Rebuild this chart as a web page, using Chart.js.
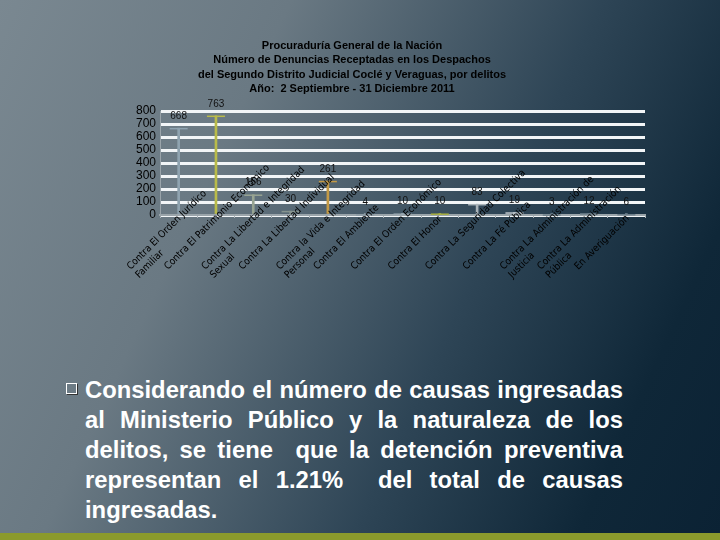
<!DOCTYPE html>
<html><head><meta charset="utf-8">
<script src="https://cdn.jsdelivr.net/npm/chart.js@4"></script>
<style>
html,body{margin:0;padding:0;width:720px;height:540px;overflow:hidden}
body{background:linear-gradient(115deg,#7a8891 0%,#6a7983 30%,#2e4556 62%,#0f2738 85%,#0b2234 100%);position:relative;font-family:"Liberation Sans",Arial,sans-serif}
#wrap{position:absolute;left:0;top:0;width:720px;height:330px}
#title{position:absolute;left:152px;top:38px;width:400px;text-align:center;color:#000;font-weight:bold;font-size:11px;line-height:14.4px;white-space:nowrap}
#txt{position:absolute;left:85px;top:375px;width:538px;color:#fff;font-weight:bold;font-size:23.8px;line-height:30px}
#txt div{text-align:justify;text-align-last:justify;white-space:nowrap}
#txt div.last{text-align-last:left}
#bul{position:absolute;left:66px;top:383px;width:11px;height:11px;border:1.5px solid #fff;box-sizing:border-box;box-shadow:1px 1px 0 #333}
#bar{position:absolute;left:0;top:533px;width:720px;height:7px;background:#8b9a2c}
</style></head><body>
<div id="wrap"><canvas id="c"></canvas></div>
<div id="title"></div>
<div id="bul"></div>
<div id="txt"></div>
<div id="bar"></div>
<script>
const titleLines = ["Procuraduría General de la Nación","Número de Denuncias Receptadas en los Despachos","del Segundo Distrito Judicial Coclé y Veraguas, por delitos","Año:  2 Septiembre - 31 Diciembre 2011"];
const categories = [
  ["Contra El Orden Jurídico","Familiar"],
  "Contra El Patrimonio Económico",
  ["Contra La Libertad e Integridad","Sexual"],
  "Contra La Libertad Individual",
  ["Contra la Vida e Integridad","Personal"],
  "Contra El Ambiente",
  "Contra El Orden Económico",
  "Contra El Honor",
  "Contra La Seguridad Colectiva",
  "Contra La Fé Pública",
  ["Contra La Administración de","Justicia"],
  ["Contra La Administración","Pública"],
  "En Averiguación"
];
const denuncias = [668, 763, 156, 30, 261, 4, 10, 10, 83, 19, 3, 12, 6];
const barColors = ["#8fa3b0","#b9bb4a","#98a492","#87948f","#c49a46","#8a9aa4","#9aa8b0","#a8b040","#a9b3b9","#c0c8cd","#6d7f8b","#6d7f8b","#6d7f8b"];
const yTicks = [0,100,200,300,400,500,600,700,800];
const bodyLines = ["Considerando el número de causas ingresadas","al Ministerio Público y la naturaleza de los","delitos, se tiene\u00a0 que la detención preventiva","representan el 1.21%\u00a0 del total de causas","ingresadas."];

document.getElementById('title').innerHTML = titleLines.map(t=>'<div>'+t.replace(/  /g,'&nbsp; ')+'</div>').join('');
document.getElementById('txt').innerHTML = bodyLines.map((t,i)=>'<div'+(i===bodyLines.length-1?' class="last"':'')+'>'+t+'</div>').join('');

const LABEL_FONT = '10px "Liberation Sans Narrow", "DejaVu Sans Condensed", "Liberation Sans", Arial';

const marks = {
  id:'marks',
  afterDatasetsDraw(chart){
    const ctx = chart.ctx, meta = chart.getDatasetMeta(0), ds = chart.data.datasets[0];
    ctx.save();
    meta.data.forEach((el,i)=>{
      ctx.strokeStyle = ds.backgroundColor[i];
      ctx.lineWidth = 1.5;
      ctx.beginPath();
      ctx.moveTo(el.x-9, el.y+0.5); ctx.lineTo(el.x+9, el.y+0.5);
      ctx.stroke();
    });
    ctx.font = '10px "Liberation Sans", Arial';
    ctx.fillStyle = '#111';
    ctx.textAlign = 'center';
    ctx.textBaseline = 'bottom';
    meta.data.forEach((el,i)=>{
      ctx.fillText(String(ds.data[i]), el.x, el.y - 7);
    });
    const xs = chart.scales.x;
    ctx.font = LABEL_FONT;
    ctx.fillStyle = '#000';
    ctx.textAlign = 'left';
    ctx.textBaseline = 'alphabetic';
    chart.data.labels.forEach((lab,i)=>{
      const lines = Array.isArray(lab) ? lab : [lab];
      const x = xs.getPixelForTick(i) - 48, y = xs.top + 55;
      ctx.save();
      ctx.translate(x,y);
      ctx.rotate(-Math.PI/4);
      lines.forEach((ln,j)=>ctx.fillText(ln, 0, j*12));
      ctx.restore();
    });
    ctx.restore();
  }
};

new Chart(document.getElementById('c'),{
  type:'bar',
  data:{labels:categories,datasets:[{data:denuncias,backgroundColor:barColors,barThickness:2}]},
  options:{
    responsive:true,maintainAspectRatio:false,animation:false,
    layout:{padding:{left:110,right:75,top:111,bottom:0}},
    plugins:{legend:{display:false},tooltip:{enabled:false},title:{display:false}},
    scales:{
      y:{min:0,max:800,
        afterBuildTicks(s){s.ticks = yTicks.map(v=>({value:v}));},
        afterFit(s){s.width=50;},
        ticks:{color:'#000',font:{family:'"Liberation Sans", Arial',size:12},padding:4,autoSkip:false},
        grid:{color:'#f2f5f7',lineWidth:3,drawTicks:false},
        border:{display:true,color:'#9aa4aa',width:1}
      },
      x:{
        afterFit(s){s.height=115;},
        ticks:{display:false},
        grid:{display:true,drawOnChartArea:false,drawTicks:true,tickLength:3,color:'#aab2b7',offset:true},
        border:{color:'#9aa4aa',width:2}
      }
    }
  },
  plugins:[marks]
});
</script>
</body></html>
